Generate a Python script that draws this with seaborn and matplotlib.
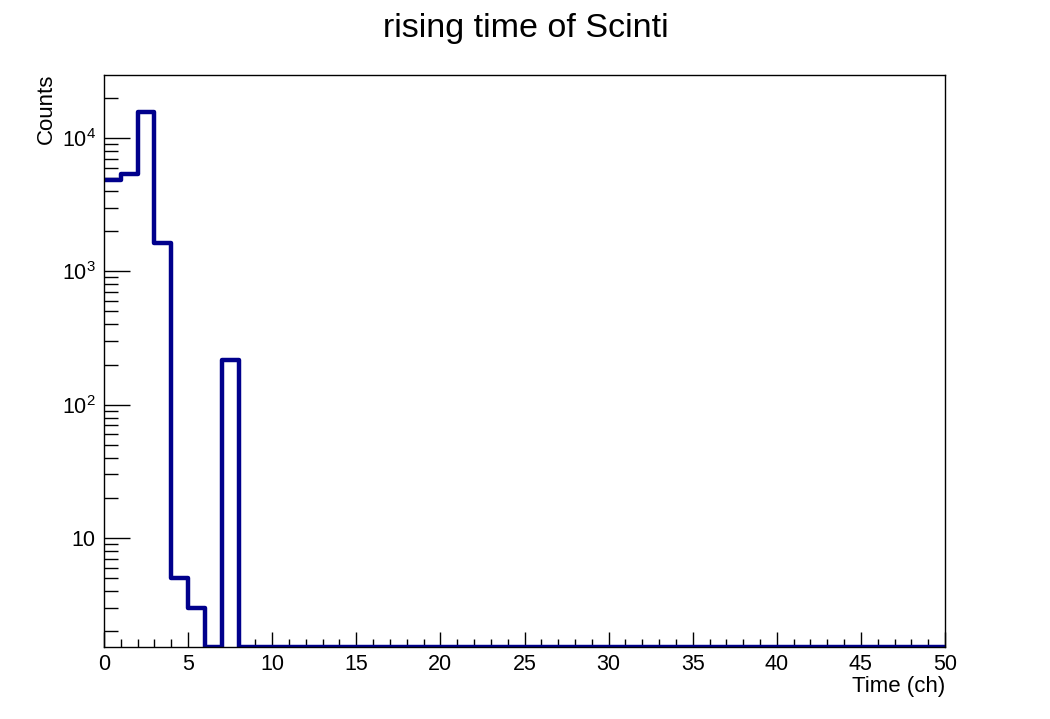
import numpy as np
import matplotlib
matplotlib.use("Agg")
import matplotlib.pyplot as plt
import matplotlib.ticker as mticker
import seaborn as sns

# Data: histogram of rising time (50 bins from 0 to 50)
bin_edges = list(range(0, 51))
counts = [4840, 5370, 15700, 1630, 5, 3, 0, 217] + [0] * 42
title = "rising time of Scinti"
xlabel = "Time (ch)"
ylabel = "Counts"
ymin, ymax = 1.52, 29700

sns.set_style("white")
plt.rcParams['font.family'] = ['Liberation Sans', 'DejaVu Sans']
plt.rcParams['mathtext.fontset'] = 'custom'
plt.rcParams['mathtext.rm'] = 'Liberation Sans'
plt.rcParams['text.color'] = 'black'
plt.rcParams['xtick.color'] = 'black'
plt.rcParams['ytick.color'] = 'black'
plt.rcParams['xtick.labelcolor'] = 'black'
plt.rcParams['ytick.labelcolor'] = 'black'

fig = plt.figure(figsize=(10.5, 7.19), dpi=100)
ax = fig.add_axes([104/1050, (719-647)/719, 841/1050, 572/719])

centers = [(bin_edges[i] + bin_edges[i+1]) / 2 for i in range(len(counts))]
display_counts = [max(c, ymin) for c in counts]
sns.histplot(x=centers, weights=display_counts, bins=bin_edges, element="step",
             fill=False, color="#00008c", linewidth=3.2, ax=ax)

ax.set_yscale('log')
ax.set_xlim(0, 50)
ax.set_ylim(ymin, ymax)

for s in ax.spines.values():
    s.set_color('black')
    s.set_linewidth(1.0)

ax.xaxis.set_major_locator(mticker.MultipleLocator(5))
ax.xaxis.set_minor_locator(mticker.MultipleLocator(1))
ax.yaxis.set_major_locator(mticker.LogLocator(base=10, numticks=10))
ax.yaxis.set_minor_locator(mticker.LogLocator(base=10, subs=np.arange(2, 10), numticks=20))

def yfmt(v, pos):
    e = int(round(np.log10(v)))
    if e == 1:
        return "10"
    return r"$\mathregular{10^{%d}}$" % e
ax.yaxis.set_major_formatter(mticker.FuncFormatter(yfmt))
ax.yaxis.set_minor_formatter(mticker.NullFormatter())

ax.tick_params(axis='x', which='major', direction='in', length=11, width=1,
               labelsize=15.5, pad=5, top=False, bottom=True)
ax.tick_params(axis='x', which='minor', direction='in', length=5.5, width=1,
               top=False, bottom=True)
ax.tick_params(axis='y', which='major', direction='in', length=19, width=1,
               labelsize=15.5, pad=6, left=True, right=False)
ax.tick_params(axis='y', which='minor', direction='in', length=10, width=1,
               left=True, right=False)

ax.set_xlabel("")
ax.set_ylabel("")
fig.text(945/1050, 1 - 692/719, xlabel, ha='right', va='baseline', fontsize=16)
fig.text(46/1050, 1 - 74/719, ylabel, ha='center', va='top', rotation=90, fontsize=16)
fig.text(526/1050, 1 - 28/719, title, ha='center', va='center', fontsize=24.5)

fig.savefig("out.png", dpi=100)
